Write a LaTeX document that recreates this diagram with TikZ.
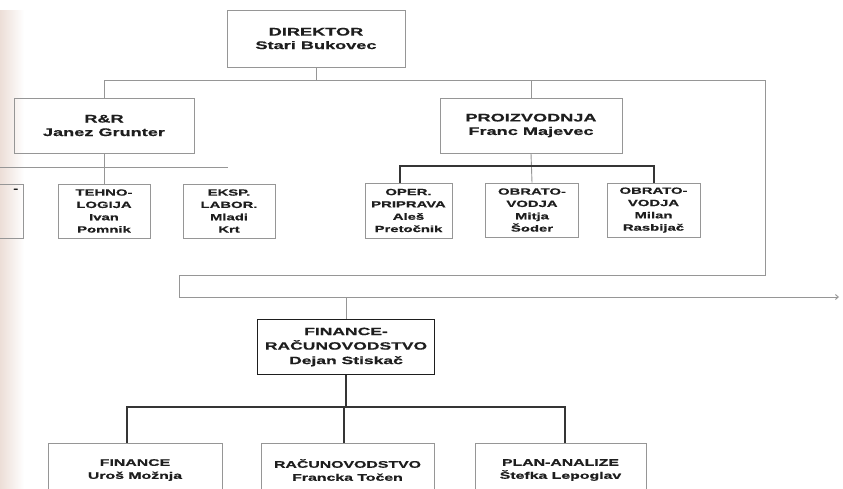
\documentclass[tikz,border=0pt]{standalone}
\usepackage{fontspec}
\setmainfont{Liberation Sans}[FakeStretch=1.65, BoldFeatures={FakeBold=0.6}]
\usetikzlibrary{arrows.meta}
\definecolor{edge}{RGB}{236,222,215}
\definecolor{ink}{RGB}{30,30,30}
\definecolor{scanline}{RGB}{150,150,150}
\tikzset{
  org/.style={draw=scanline, line width=0.9pt, rectangle, inner sep=0pt, align=center,
    font=\fontsize{11}{13.5}\selectfont\bfseries, text=ink},
  orgsmall/.style={org, font=\fontsize{9}{12.3}\selectfont\bfseries},
  orgbottom/.style={org, font=\fontsize{9.6}{13}\selectfont\bfseries},
  orgdark/.style={org, draw=ink, line width=1.4pt, font=\fontsize{10.6}{14.5}\selectfont\bfseries},
  thin/.style={draw=scanline, line width=0.9pt},
  thick/.style={draw=ink!90, line width=1.4pt},
}
\begin{document}
\begin{tikzpicture}[x=1pt,y=-1pt]
\useasboundingbox (0,0) rectangle (843,488);
\clip (0,0) rectangle (843,488);
\fill[white] (0,0) rectangle (843,488);
\shade[left color=edge, right color=white] (0,10) rectangle (24,488);

% nodes
\node[org, minimum width=178pt, minimum height=57pt] (dir) at (316,38.5) {DIREKTOR\\Stari Bukovec};
\node[org, minimum width=180pt, minimum height=55pt] (rr) at (104,125.5) {R\&R\\Janez Grunter};
\node[org, minimum width=182pt, minimum height=55pt] (pro) at (531,125.5) {PROIZVODNJA\\Franc Majevec};

\node[org, minimum width=83pt, minimum height=54pt] (part) at (-18.5,211) {};
\node[text=ink, font=\bfseries\fontsize{9}{12}\selectfont, anchor=north east, inner sep=0pt] (parttxt) at (part.north east) [xshift=-5pt, yshift=-5pt] {-};
\node[orgsmall, minimum width=92pt, minimum height=54pt] (tech) at (104,211) {TEHNO-\\LOGIJA\\Ivan\\Pomnik};
\node[orgsmall, minimum width=92pt, minimum height=54pt] (eksp) at (229,211) {EKSP.\\LABOR.\\Mladi\\Krt};

\node[orgsmall, minimum width=87pt, minimum height=55pt] (oper) at (408.5,210.5) {OPER.\\PRIPRAVA\\Aleš\\Pretočnik};
\node[orgsmall, minimum width=93pt, minimum height=54pt] (ob1) at (532,210) {OBRATO-\\VODJA\\Mitja\\Šoder};
\node[orgsmall, minimum width=93pt, minimum height=54pt] (ob2) at (653.5,210) {OBRATO-\\VODJA\\Milan\\Rasbijač};

\node[orgdark, minimum width=177pt, minimum height=55pt] (fin) at (346,347) {FINANCE-\\RAČUNOVODSTVO\\Dejan Stiskač};

\node[orgbottom, minimum width=174pt, minimum height=54pt] (f1) at (135,470) {FINANCE\\Uroš Možnja};
\node[orgbottom, minimum width=173pt, minimum height=54pt] (f2) at (347.5,470) {RAČUNOVODSTVO\\Francka Točen};
\node[orgbottom, minimum width=171pt, minimum height=54pt] (f3) at (560.5,470) {PLAN-ANALIZE\\Štefka Lepoglav};

% junction coordinates
\coordinate (jd) at (316,80);
\coordinate (jr) at (765,80);
\coordinate (jr2) at (765,275);
\coordinate (jl) at (179,275);
\coordinate (jl2) at (179,297);
\coordinate (jend) at (839,297);
\coordinate (jfin) at (346,297);
\coordinate (jrrL) at (0,167);
\coordinate (jrrR) at (228,167);
\coordinate (jpL) at (400,166);
\coordinate (jpR) at (654,166);
\coordinate (jf) at (346,407);
\coordinate (jfL) at (127,407);
\coordinate (jfR) at (565,407);
\coordinate (jfM) at (344,407);

% connectors
\draw[thin] (dir.south) -- (jd);
\draw[thin] (rr.north) |- (jr) -- (jr2) -- (jl) -- (jl2);
\draw[thin, -{Straight Barb[length=3pt,width=5pt]}] (jl2) -- (jend);
\draw[thin] (pro.north) -- (pro.north |- jd);
\draw[thin] (rr.south) -- (tech.north);
\draw[thin] (jrrL) -- (jrrR);
\draw[thin] (pro.south) -- (ob1.north);
\draw[thick] (jpL |- oper.north) -- (jpL) -- (jpR) -- (jpR |- ob2.north);
\draw[thin] (jfin) -- (fin.north);
\draw[thick] (fin.south) -- (jf);
\draw[thick] (jfL |- f1.north) -- (jfL) -- (jfR) -- (jfR |- f3.north);
\draw[thick] (jfM) -- (jfM |- f2.north);
\end{tikzpicture}
\end{document}
